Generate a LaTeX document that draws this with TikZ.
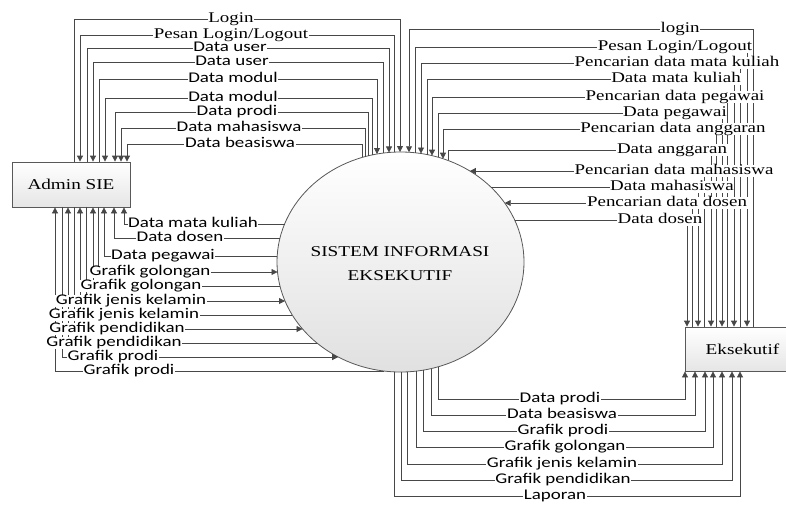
\documentclass[tikz,border=0pt]{standalone}
\usepackage{fontspec}
\setmainfont{Liberation Serif}[FakeStretch=1.28]
\newfontfamily\sansf{Carlito}[FakeStretch=1.28]
\usetikzlibrary{arrows.meta,shapes.geometric}

\def\ecx{400.5}\def\ecy{262}\def\erx{123.5}\def\ery{110}
\newcommand\ytop[1]{\ecy-\ery*sqrt(1-((#1-\ecx)/\erx)^2)}
\newcommand\ybot[1]{\ecy+\ery*sqrt(1-((#1-\ecx)/\erx)^2)}
\newcommand\xlft[1]{\ecx-\erx*sqrt(1-((#1-\ecy)/\ery)^2)}
\newcommand\xrgt[1]{\ecx+\erx*sqrt(1-((#1-\ecy)/\ery)^2)}
\newcommand\onT[2]{\coordinate (#1) at (#2,{\ytop{#2}});}
\newcommand\onB[2]{\coordinate (#1) at (#2,{\ybot{#2}});}
\newcommand\onL[2]{\coordinate (#1) at ({\xlft{#2}},#2);}
\newcommand\onR[2]{\coordinate (#1) at ({\xrgt{#2}},#2);}

\tikzset{
  flow/.style={draw=black!72, line width=0.8pt},
  tosys/.style={-{Triangle[length=6pt,width=6pt]}},
  toext/.style={{Triangle[length=6pt,width=6pt]}-},
  lab/.style={fill=white, inner xsep=0.6pt, inner ysep=0pt, text height=9.5pt, text depth=2.6pt, font=\fontsize{14.8}{16}\selectfont},
  sl/.style={lab, font=\fontsize{14.8}{16}\selectfont\sansf},
  box/.style={rectangle, draw=black!65, line width=0.8pt, top color=white, bottom color=black!10, inner sep=0pt, font=\fontsize{15}{18}\selectfont},
}

\begin{document}
\begin{tikzpicture}[x=1pt, y=-1pt]
\useasboundingbox (0,0) rectangle (786,504);

% entities and process
\node[ellipse, draw=black!65, line width=0.8pt, top color=white, bottom color=black!12, minimum width=247pt, minimum height=220pt, inner sep=0pt] (sys) at (\ecx,\ecy) {};
\node[align=center, font=\fontsize{15}{24}\selectfont] (systxt) at (400,264) {SISTEM INFORMASI\\EKSEKUTIF};
\node[box, minimum width=118pt, minimum height=45pt] (admin) at (71,184.5) {Admin SIE};
\node[box, minimum width=115pt, minimum height=44pt] (eks) at (742.5,349) {Eksekutif};

% border points of the process
\onT{tA1}{400} \onT{tA2}{394} \onT{tA3}{389} \onT{tA4}{383} \onT{tA5}{377}
\onT{tA6}{372} \onT{tA7}{368} \onT{tA8}{365} \onT{tA9}{362}
\onL{lA1}{224} \onL{lA2}{238} \onL{lA3}{256} \onL{lA4}{272} \onL{lA5}{286}
\onL{lA6}{301} \onL{lA7}{315} \onL{lA8}{329} \onL{lA9}{343} \onL{lA10}{357} \onL{lA11}{371}
\onT{tE1}{409} \onT{tE2}{415} \onT{tE3}{421} \onT{tE4}{427} \onT{tE5}{432}
\onT{tE6}{438} \onT{tE7}{443} \onT{tE8}{448}
\onR{rE1}{171} \onR{rE2}{187} \onR{rE3}{203} \onR{rE4}{220}
\onB{bE1}{438} \onB{bE2}{431} \onB{bE3}{423} \onB{bE4}{416} \onB{bE5}{407} \onB{bE6}{401} \onB{bE7}{394}

% Admin SIE <-> system (top)
\draw[flow,tosys] (admin.north -| 74,0) |- (tA1 |- 0,19) -- (tA1);
\draw[flow,toext] (admin.north -| 80,0) |- (tA2 |- 0,35) -- (tA2);
\draw[flow,tosys] (admin.north -| 87,0) |- (tA3 |- 0,48) -- (tA3);
\draw[flow,toext] (admin.north -| 93,0) |- (tA4 |- 0,62) -- (tA4);
\draw[flow,tosys] (admin.north -| 99,0) |- (tA5 |- 0,79) -- (tA5);
\draw[flow,toext] (admin.north -| 105,0) |- (tA6 |- 0,98) -- (tA6);
\draw[flow,toext] (admin.north -| 115,0) |- (tA7 |- 0,112) -- (tA7);
\draw[flow,toext] (admin.north -| 121,0) |- (tA8 |- 0,128) -- (tA8);
\draw[flow,toext] (admin.north -| 127,0) |- (tA9 |- 0,144) -- (tA9);

% Admin SIE <-> system (left)
\draw[flow,toext] (admin.south -| 124,0) |- (lA1);
\draw[flow,toext] (admin.south -| 114,0) |- (lA2);
\draw[flow,toext] (admin.south -| 104,0) |- (lA3);
\draw[flow,tosys] (admin.south -| 98,0) |- (lA4);
\draw[flow,toext] (admin.south -| 93,0) |- (lA5);
\draw[flow,tosys] (admin.south -| 86,0) |- (lA6);
\draw[flow,toext] (admin.south -| 80,0) |- (lA7);
\draw[flow,tosys] (admin.south -| 74,0) |- (lA8);
\draw[flow,toext] (admin.south -| 68,0) |- (lA9);
\draw[flow,tosys] (admin.south -| 62,0) |- (lA10);
\draw[flow,toext] (admin.south -| 55,0) |- (lA11);

% Eksekutif <-> system (top)
\draw[flow,tosys] (eks.north -| 753,0) |- (tE1 |- 0,29) -- (tE1);
\draw[flow,toext] (eks.north -| 747,0) |- (tE2 |- 0,47) -- (tE2);
\draw[flow,tosys] (eks.north -| 740,0) |- (tE3 |- 0,63) -- (tE3);
\draw[flow,toext] (eks.north -| 734,0) |- (tE4 |- 0,79) -- (tE4);
\draw[flow,tosys] (eks.north -| 727,0) |- (tE5 |- 0,97) -- (tE5);
\draw[flow,toext] (eks.north -| 722,0) |- (tE6 |- 0,113) -- (tE6);
\draw[flow,tosys] (eks.north -| 716,0) |- (tE7 |- 0,129) -- (tE7);
\draw[flow,toext] (eks.north -| 711,0) |- (tE8 |- 0,150) -- (tE8);
\draw[flow,tosys] (eks.north -| 704,0) |- (rE1);
\draw[flow,toext] (eks.north -| 698,0) |- (rE2);
\draw[flow,tosys] (eks.north -| 692,0) |- (rE3);
\draw[flow,toext] (eks.north -| 687,0) |- (rE4);

% system -> Eksekutif (bottom)
\draw[flow,toext] (eks.south -| 685,0) |- (bE1 |- 0,399) -- (bE1);
\draw[flow,toext] (eks.south -| 695,0) |- (bE2 |- 0,415) -- (bE2);
\draw[flow,toext] (eks.south -| 705,0) |- (bE3 |- 0,431) -- (bE3);
\draw[flow,toext] (eks.south -| 713,0) |- (bE4 |- 0,447) -- (bE4);
\draw[flow,toext] (eks.south -| 722,0) |- (bE5 |- 0,464) -- (bE5);
\draw[flow,toext] (eks.south -| 732,0) |- (bE6 |- 0,480) -- (bE6);
\draw[flow,toext] (eks.south -| 740,0) |- (bE7 |- 0,496) -- (bE7);

% labels: top left
\node[lab] (L1) at (231,19) {Login};
\node[lab] (L2) at (231,35) {Pesan Login/Logout};
\node[sl] (L3) at (230,48) {Data user};
\node[sl] (L4) at (232,62) {Data user};
\node[sl] (L5) at (233,79) {Data modul};
\node[sl] (L6) at (233,98) {Data modul};
\node[sl] (L7) at (237,112) {Data prodi};
\node[sl] (L8) at (239,128) {Data mahasiswa};
\node[sl] (L9) at (240,144) {Data beasiswa};

% labels: left
\node[sl] (M1) at (193,224) {Data mata kuliah};
\node[sl] (M2) at (180,238) {Data dosen};
\node[sl] (M3) at (163,256) {Data pegawai};
\node[sl] (M4) at (150,272) {Grafik golongan};
\node[sl] (M5) at (141,286) {Grafik golongan};
\node[sl] (M6) at (131,301) {Grafik jenis kelamin};
\node[sl] (M7) at (124,315) {Grafik jenis kelamin};
\node[sl] (M8) at (117,329) {Grafik pendidikan};
\node[sl] (M9) at (114,343) {Grafik pendidikan};
\node[sl] (M10) at (113,357) {Grafik prodi};
\node[sl] (M11) at (129,371) {Grafik prodi};

% labels: top right
\node[lab] (R1) at (680,29) {login};
\node[lab] (R2) at (675,47) {Pesan Login/Logout};
\node[lab] (R3) at (677,63) {Pencarian data mata kuliah};
\node[lab] (R4) at (676,79) {Data mata kuliah};
\node[lab] (R5) at (675,97) {Pencarian data pegawai};
\node[lab] (R6) at (675,113) {Data pegawai};
\node[lab] (R7) at (673,129) {Pencarian data anggaran};
\node[lab] (R8) at (672,150) {Data anggaran};
\node[lab] (R9) at (674,171) {Pencarian data mahasiswa};
\node[lab] (R10) at (672,187) {Data mahasiswa};
\node[lab] (R11) at (667,203) {Pencarian data dosen};
\node[lab] (R12) at (660,220) {Data dosen};

% labels: bottom
\node[sl] (B1) at (560,399) {Data prodi};
\node[sl] (B2) at (562,415) {Data beasiswa};
\node[sl] (B3) at (563,431) {Grafik prodi};
\node[sl] (B4) at (565,447) {Grafik golongan};
\node[sl] (B5) at (562,464) {Grafik jenis kelamin};
\node[sl] (B6) at (563,480) {Grafik pendidikan};
\node[sl] (B7) at (555,496) {Laporan};
\end{tikzpicture}
\end{document}
